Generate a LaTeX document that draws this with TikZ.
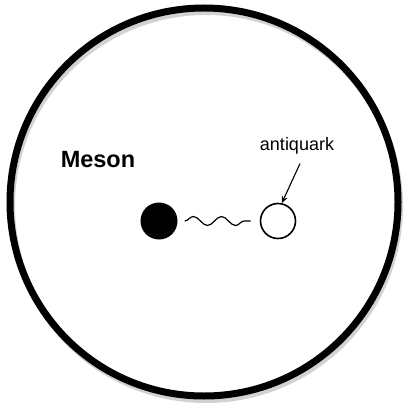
\documentclass[tikz,border=0pt]{standalone}
\usepackage{fontspec}
\setmainfont{Liberation Sans}
\usetikzlibrary{positioning,decorations.pathmorphing,arrows.meta}

\begin{document}
\begin{tikzpicture}[x=1pt, y=-1pt,
    quark/.style={circle, fill=black, minimum size=37pt, inner sep=0pt},
    antiquark/.style={circle, draw=black, line width=1.6pt, minimum size=35pt, inner sep=0pt},
    gluon/.style={decorate, decoration={snake, segment length=28pt, amplitude=4.5pt}, line width=1.2pt},
    tagtext/.style={inner sep=0pt, font=\fontsize{18}{21}\selectfont}
]
    \useasboundingbox (0,0) rectangle (402,403);
    % meson boundary with its faint shadow
    \draw[gray!35, line width=6pt] (206,206) circle[radius=194pt];
    \draw[line width=7pt] (204,202) circle[radius=194pt];

    \node[inner sep=0pt, font=\fontsize{23.5}{28}\selectfont\bfseries] (meson) at (98,160) {Meson};
    \node[quark] (q) at (159,221) {};
    \node[antiquark, right=82pt of q] (aq) {};
    \node[tagtext] (aqtag) at (297,146) {antiquark};

    \draw[gluon] ([xshift=7pt]q.east) -- ([xshift=-9pt]aq.west);
    \draw[line width=1.1pt, -{Stealth[length=7pt, width=6pt]}] ([xshift=3pt, yshift=-9pt]aqtag.south) -- (aq.78);
\end{tikzpicture}
\end{document}
